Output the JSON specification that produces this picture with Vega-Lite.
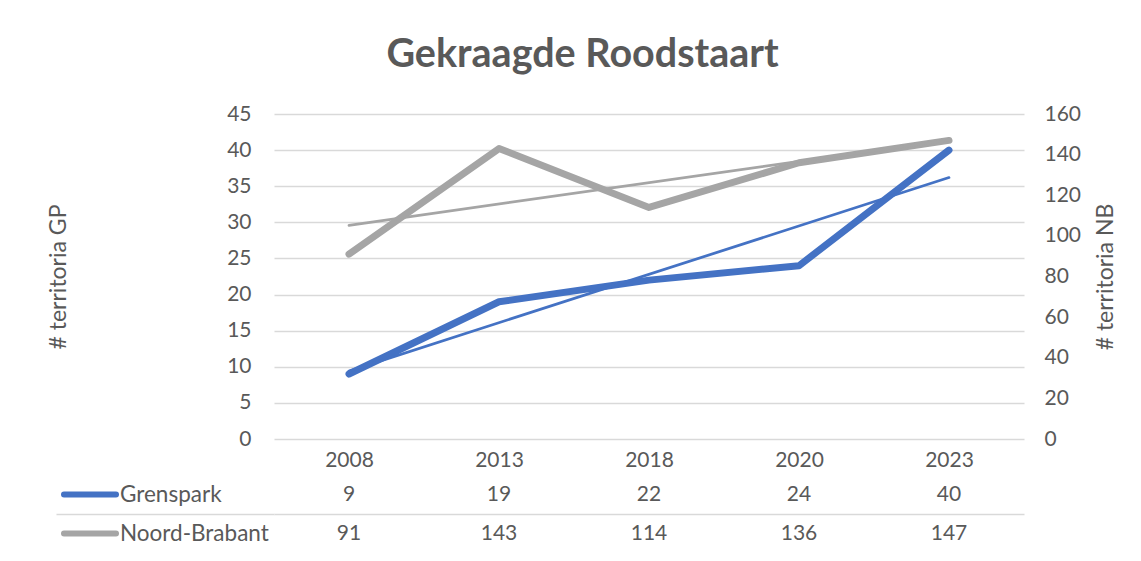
{
  "$schema": "https://vega.github.io/schema/vega-lite/v6.json",
  "padding": {"left": 47, "top": 34, "right": 10, "bottom": 5},
  "background": "white",
  "title": {
    "text": "Gekraagde Roodstaart",
    "font": "Lato",
    "fontSize": 39.5,
    "fontWeight": "bold",
    "color": "#595959",
    "anchor": "middle",
    "offset": 28
  },
  "data": {
    "values": [
      {"jaar": "2008", "Grenspark": 9, "Noord-Brabant": 91, "trendGP": 9.4, "trendNB": 105.2},
      {"jaar": "2013", "Grenspark": 19, "Noord-Brabant": 143},
      {"jaar": "2018", "Grenspark": 22, "Noord-Brabant": 114},
      {"jaar": "2020", "Grenspark": 24, "Noord-Brabant": 136},
      {"jaar": "2023", "Grenspark": 40, "Noord-Brabant": 147, "trendGP": 36.2, "trendNB": 147.2}
    ]
  },
  "spacing": 36,
  "bounds": "flush",
  "vconcat": [
    {
      "width": 750,
      "height": 325,
      "layer": [
        {
          "mark": {"type": "line", "color": "#A5A5A5", "strokeWidth": 7, "strokeCap": "round", "strokeJoin": "round"},
          "encoding": {
            "x": {"field": "jaar", "type": "ordinal", "axis": {"title": null, "labelAngle": 0, "labelPadding": 10, "grid": false}},
            "y": {
              "field": "Noord-Brabant", "type": "quantitative",
              "scale": {"domain": [0, 160], "nice": false},
              "axis": {"orient": "right", "values": [0, 20, 40, 60, 80, 100, 120, 140, 160], "grid": false, "title": "# territoria NB", "titleAngle": 270, "labelPadding": 20, "titlePadding": 37}
            }
          }
        },
        {
          "mark": {"type": "line", "color": "#4472C4", "strokeWidth": 7, "strokeCap": "round", "strokeJoin": "round"},
          "encoding": {
            "x": {"field": "jaar", "type": "ordinal"},
            "y": {
              "field": "Grenspark", "type": "quantitative",
              "scale": {"domain": [0, 45], "nice": false},
              "axis": {"orient": "left", "values": [0, 5, 10, 15, 20, 25, 30, 35, 40, 45], "grid": true, "title": "# territoria GP", "labelPadding": 23, "titlePadding": 156}
            }
          }
        },
        {
          "transform": [{"filter": "isValid(datum.trendNB)"}],
          "mark": {"type": "line", "color": "#A5A5A5", "strokeWidth": 2.75, "strokeCap": "round"},
          "encoding": {
            "x": {"field": "jaar", "type": "ordinal"},
            "y": {"field": "trendNB", "type": "quantitative", "scale": {"domain": [0, 160], "nice": false}, "axis": null}
          }
        },
        {
          "transform": [{"filter": "isValid(datum.trendGP)"}],
          "mark": {"type": "line", "color": "#4472C4", "strokeWidth": 2.75, "strokeCap": "round"},
          "encoding": {
            "x": {"field": "jaar", "type": "ordinal"},
            "y": {"field": "trendGP", "type": "quantitative", "scale": {"domain": [0, 45], "nice": false}, "axis": null}
          }
        }
      ],
      "resolve": {"scale": {"y": "independent"}}
    },
    {
      "width": 750,
      "height": 78,
      "transform": [{"fold": ["Grenspark", "Noord-Brabant"], "as": ["reeks", "waarde"]}],
      "layer": [
        {
          "mark": {"type": "line", "opacity": 0},
          "encoding": {
            "x": {"field": "jaar", "type": "ordinal", "axis": null},
            "y": {
              "field": "reeks", "type": "nominal",
              "scale": {"type": "band", "domain": ["Grenspark", "Noord-Brabant"], "paddingInner": 0, "paddingOuter": 0},
              "axis": {
                "title": null, "labels": false, "domain": false, "ticks": true,
                "tickSize": 218, "tickColor": "#D9D9D9", "tickWidth": 1.5,
                "grid": true, "gridColor": "#D9D9D9", "gridWidth": 1.5,
                "bandPosition": 0,
                "tickOpacity": {"condition": {"test": "datum.value === 'Noord-Brabant'", "value": 1}, "value": 0},
                "gridOpacity": {"condition": {"test": "datum.value === 'Noord-Brabant'", "value": 1}, "value": 0}
              }
            },
            "color": {
              "field": "reeks", "type": "nominal",
              "scale": {"domain": ["Grenspark", "Noord-Brabant"], "range": ["#4472C4", "#A5A5A5"]},
              "legend": {
                "orient": "left", "title": null, "symbolType": "stroke", "symbolSize": 2704,
                "symbolStrokeWidth": 6, "symbolOpacity": 1, "clipHeight": 39, "rowPadding": 0,
                "labelFont": "Lato", "labelFontSize": 22.5, "labelColor": "#595959", "labelOffset": 1,
                "labelLimit": 400, "offset": -214, "padding": 0,
                "encode": {"symbols": {"update": {"strokeCap": {"value": "round"}}}}
              }
            }
          }
        },
        {
          "mark": {"type": "text", "font": "Lato", "fontSize": 21, "color": "#595959", "baseline": "middle"},
          "encoding": {
            "x": {"field": "jaar", "type": "ordinal", "axis": null},
            "y": {"field": "reeks", "type": "nominal"},
            "text": {"field": "waarde", "type": "quantitative"}
          }
        }
      ]
    }
  ],
  "resolve": {"scale": {"color": "independent"}, "legend": {"color": "independent"}},
  "config": {
    "font": "Lato",
    "view": {"stroke": null},
    "axis": {
      "labelFont": "Lato", "labelFontSize": 21, "labelColor": "#595959",
      "titleFont": "Lato", "titleFontSize": 23, "titleFontWeight": "normal", "titleColor": "#595959",
      "gridColor": "#D9D9D9", "gridWidth": 1.5, "domain": false, "ticks": false, "tickSize": 0
    }
  }
}
